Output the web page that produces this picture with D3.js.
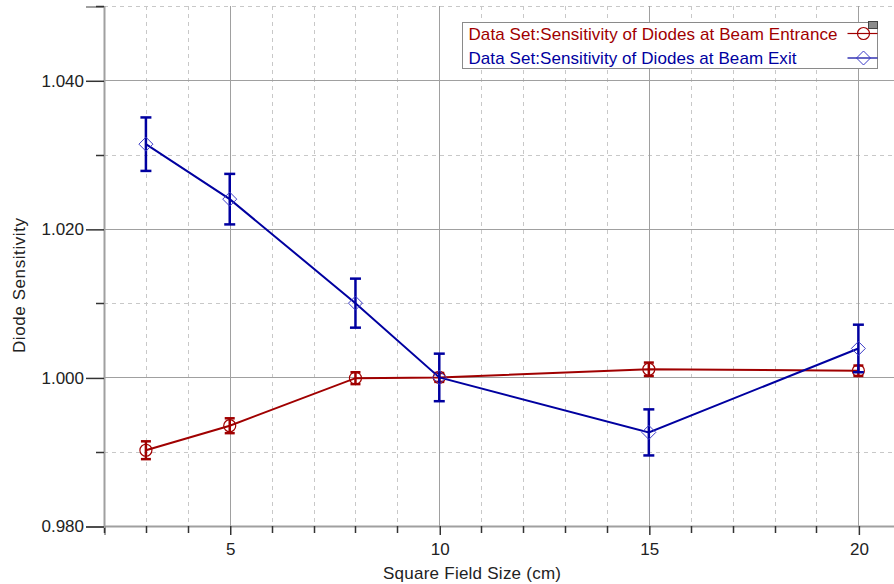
<!DOCTYPE html>
<html>
<head>
<meta charset="utf-8">
<script src="https://cdn.jsdelivr.net/npm/d3@7"></script>
<style>
  html, body { margin: 0; padding: 0; background: #fff; }
  svg { display: block; font-family: "Liberation Sans", Arial, sans-serif; }
</style>
</head>
<body>
<svg id="chart" width="894" height="584"></svg>
<script>
// Field sizes (cm)
const fieldSizes = [3, 5, 8, 10, 15, 20];

// Diode sensitivity at beam entrance, with uncertainties
const entranceValues = [0.9902, 0.9935, 0.9999, 1.0000, 1.0011, 1.0009];
const entranceErrors = [0.0012, 0.0010, 0.0008, 0.0006, 0.0009, 0.0007];

// Diode sensitivity at beam exit, with uncertainties
const exitValues = [1.0314, 1.0240, 1.0100, 1.0000, 0.9926, 1.0039];
const exitErrors = [0.0036, 0.0034, 0.0033, 0.0032, 0.0031, 0.0032];

const xMajorTicks = [5, 10, 15, 20];
const yMajorTicks = [0.98, 1.00, 1.02, 1.04];

const seriesNames = [
  "Data Set:Sensitivity of Diodes at Beam Entrance",
  "Data Set:Sensitivity of Diodes at Beam Exit"
];

const svg = d3.select("#chart");
const plotLeft = 104, plotTop = 6, plotRight = 894, plotBottom = 526;
const FONT = 17;

const x = d3.scaleLinear().domain([2, 20.85]).range([plotLeft, plotRight]);
const y = d3.scaleLinear().domain([0.98, 1.05]).range([plotBottom, plotTop]);

const RED = "#a00000", BLUE = "#0000a0";

// Grid: minor dashed, major solid
const xMinor = d3.range(3, 21).filter(v => !xMajorTicks.includes(v));
const yMinor = [0.99, 1.01, 1.03, 1.05];

const grid = svg.append("g");
grid.selectAll(".xm").data(xMinor).join("line")
  .attr("x1", d => Math.round(x(d)) + 0.5).attr("x2", d => Math.round(x(d)) + 0.5)
  .attr("y1", plotTop).attr("y2", plotBottom)
  .attr("stroke", "#c8c8c8").attr("stroke-dasharray", "4,4");
grid.selectAll(".ym").data(yMinor).join("line")
  .attr("y1", d => Math.round(y(d)) + 0.5).attr("y2", d => Math.round(y(d)) + 0.5)
  .attr("x1", plotLeft).attr("x2", plotRight)
  .attr("stroke", "#c8c8c8").attr("stroke-dasharray", "4,4");
grid.selectAll(".xM").data(xMajorTicks).join("line")
  .attr("x1", d => Math.round(x(d)) + 0.5).attr("x2", d => Math.round(x(d)) + 0.5)
  .attr("y1", plotTop).attr("y2", plotBottom)
  .attr("stroke", "#a0a0a0");
grid.selectAll(".yM").data(yMajorTicks).join("line")
  .attr("y1", d => Math.round(y(d)) + 0.5).attr("y2", d => Math.round(y(d)) + 0.5)
  .attr("x1", plotLeft).attr("x2", plotRight)
  .attr("stroke", "#a0a0a0");

// Axes
const xAxis = d3.axisBottom(x).tickValues(xMajorTicks).tickFormat(d3.format("d"))
  .tickSize(9).tickPadding(8);
const gx = svg.append("g").attr("transform", `translate(0.5,${plotBottom})`).call(xAxis);
gx.select(".domain").attr("stroke", "#a0a0a0").attr("stroke-width", 2);
gx.selectAll(".tick line").attr("stroke", "#333").attr("stroke-width", 1.5);
gx.selectAll(".tick text").attr("font-size", FONT).attr("fill", "#222")
  .attr("font-family", "Liberation Sans, Arial, sans-serif");
gx.append("g").selectAll("line").data(d3.range(2, 21).filter(v => !xMajorTicks.includes(v))).join("line")
  .attr("x1", d => Math.round(x(d))).attr("x2", d => Math.round(x(d)))
  .attr("y1", 0).attr("y2", 7).attr("stroke", "#333").attr("stroke-width", 1.5);

const yAxis = d3.axisLeft(y).tickValues(yMajorTicks).tickFormat(d3.format(".3f"))
  .tickSize(18).tickPadding(2);
const gy = svg.append("g").attr("transform", `translate(${plotLeft},0.5)`).call(yAxis);
gy.select(".domain").attr("stroke", "#a0a0a0").attr("stroke-width", 2);
gy.selectAll(".tick line").attr("stroke", "#333").attr("stroke-width", 1.5);
gy.selectAll(".tick text").attr("font-size", FONT).attr("fill", "#222")
  .attr("font-family", "Liberation Sans, Arial, sans-serif");
gy.append("g").selectAll("line").data(yMinor).join("line")
  .attr("y1", d => Math.round(y(d))).attr("y2", d => Math.round(y(d)))
  .attr("x1", -8).attr("x2", 0).attr("stroke", "#333").attr("stroke-width", 1.5);

// Axis titles
svg.append("text").attr("x", 383).attr("y", 579)
  .attr("font-size", FONT).attr("fill", "#222")
  .attr("textLength", 178).attr("lengthAdjust", "spacing")
  .text("Square Field Size (cm)");
svg.append("text").attr("transform", "translate(25,353) rotate(-90)")
  .attr("font-size", FONT).attr("fill", "#222")
  .attr("textLength", 135).attr("lengthAdjust", "spacing")
  .text("Diode Sensitivity");

// Series
const series = [
  { values: entranceValues, errors: entranceErrors, color: RED, marker: "circle", cap: 5 },
  { values: exitValues, errors: exitErrors, color: BLUE, marker: "diamond", cap: 5.5 }
];

const line = d3.line().x(d => x(d[0])).y(d => y(d[1]));

function drawMarker(g, type, color) {
  if (type === "circle") {
    g.append("circle").attr("r", 6).attr("fill", "none")
      .attr("stroke", color).attr("stroke-width", 1.2);
  } else {
    g.append("path").attr("d", "M0,-7L7,0L0,7L-7,0Z").attr("fill", "none")
      .attr("stroke", "#3c3cc8").attr("stroke-width", 1);
  }
}

series.forEach(s => {
  const pts = fieldSizes.map((f, i) => [f, s.values[i], s.errors[i]]);
  const g = svg.append("g");
  g.append("path").datum(pts).attr("d", line).attr("fill", "none")
    .attr("stroke", s.color).attr("stroke-width", 2);
  const eb = g.selectAll(".eb").data(pts).join("g");
  eb.append("line")
    .attr("x1", d => x(d[0])).attr("x2", d => x(d[0]))
    .attr("y1", d => y(d[1] + d[2])).attr("y2", d => y(d[1] - d[2]))
    .attr("stroke", s.color).attr("stroke-width", 2.5);
  eb.append("line")
    .attr("x1", d => x(d[0]) - s.cap).attr("x2", d => x(d[0]) + s.cap)
    .attr("y1", d => y(d[1] + d[2])).attr("y2", d => y(d[1] + d[2]))
    .attr("stroke", s.color).attr("stroke-width", 2.5);
  eb.append("line")
    .attr("x1", d => x(d[0]) - s.cap).attr("x2", d => x(d[0]) + s.cap)
    .attr("y1", d => y(d[1] - d[2])).attr("y2", d => y(d[1] - d[2]))
    .attr("stroke", s.color).attr("stroke-width", 2.5);
  g.selectAll(".mk").data(pts).join("g")
    .attr("transform", d => `translate(${x(d[0])},${y(d[1])})`)
    .each(function() { drawMarker(d3.select(this), s.marker, s.color); });
});

// Legend
const legendTextLengths = [369, 328];
const lg = svg.append("g").attr("transform", "translate(462.5,22.5)");
lg.append("rect").attr("width", 415).attr("height", 46)
  .attr("fill", "#fff").attr("stroke", "#8a8a8a");
series.forEach((s, i) => {
  const yy = 11 + i * 24.5;
  lg.append("text").attr("x", 6).attr("y", yy + 6).attr("font-size", FONT)
    .attr("fill", s.color)
    .attr("textLength", legendTextLengths[i]).attr("lengthAdjust", "spacing")
    .text(seriesNames[i]);
  lg.append("line").attr("x1", 385).attr("x2", 415).attr("y1", yy).attr("y2", yy)
    .attr("stroke", s.color).attr("stroke-width", 1.2);
  const m = lg.append("g").attr("transform", `translate(401,${yy})`);
  drawMarker(m, s.marker, s.color);
});
lg.append("rect").attr("x", 406).attr("y", -1).attr("width", 9).attr("height", 7)
  .attr("fill", "#8c8c8c").attr("stroke", "#444");
</script>
</body>
</html>
